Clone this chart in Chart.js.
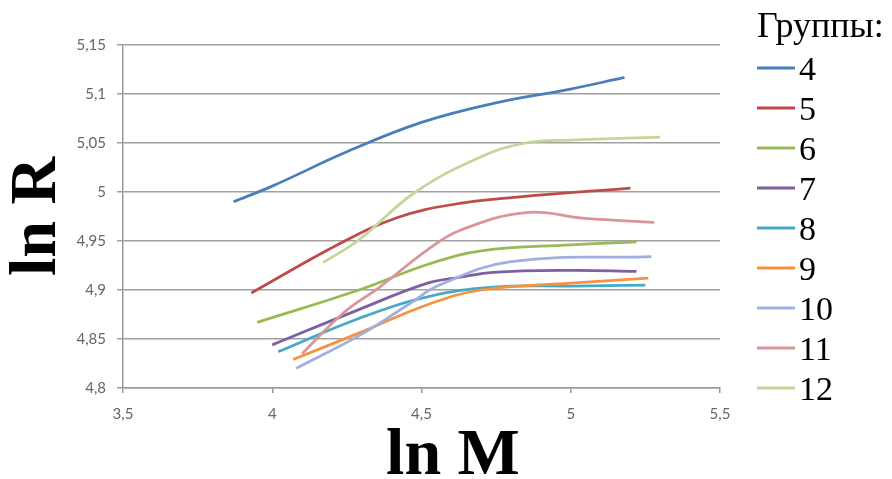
<!DOCTYPE html>
<html><head><meta charset="utf-8">
<script src="https://cdn.jsdelivr.net/npm/chart.js@4.4.0/dist/chart.umd.min.js"></script>
<style>html,body{margin:0;padding:0;background:#fff;}#wrap{width:892px;height:479px;position:relative;}</style>
</head><body><div id="wrap"><canvas id="c" width="892" height="479"></canvas></div>
<script>
// Groups (legend labels)
const groups = ['4', '5', '6', '7', '8', '9', '10', '11', '12'];
// ln M (x) and ln R (y) per group
const lnM_4  = [3.87, 4.00, 4.25, 4.50, 4.75, 5.00, 5.18];
const lnR_4  = [4.990, 5.006, 5.041, 5.071, 5.091, 5.105, 5.117];
const lnM_5  = [3.93, 4.23, 4.42, 4.60, 4.83, 5.20];
const lnR_5  = [4.897, 4.948, 4.974, 4.987, 4.995, 5.004];
const lnM_6  = [3.95, 4.29, 4.52, 4.70, 5.00, 5.22];
const lnR_6  = [4.867, 4.900, 4.926, 4.940, 4.946, 4.949];
const lnM_7  = [4.00, 4.29, 4.52, 4.63, 4.74, 5.00, 5.22];
const lnR_7  = [4.844, 4.880, 4.907, 4.913, 4.918, 4.920, 4.919];
const lnM_8  = [4.02, 4.29, 4.52, 4.74, 5.00, 5.25];
const lnR_8  = [4.837, 4.871, 4.893, 4.903, 4.904, 4.905];
const lnM_9  = [4.07, 4.29, 4.52, 4.70, 5.00, 5.26];
const lnR_9  = [4.829, 4.856, 4.885, 4.900, 4.907, 4.912];
const lnM_10 = [4.08, 4.30, 4.46, 4.56, 4.80, 5.27];
const lnR_10 = [4.820, 4.855, 4.886, 4.905, 4.929, 4.934];
const lnM_11 = [4.10, 4.24, 4.36, 4.52, 4.63, 4.85, 5.05, 5.28];
const lnR_11 = [4.835, 4.877, 4.903, 4.941, 4.961, 4.979, 4.973, 4.969];
const lnM_12 = [4.17, 4.29, 4.48, 4.70, 4.85, 5.00, 5.30];
const lnR_12 = [4.928, 4.951, 5.000, 5.036, 5.050, 5.053, 5.056];
// Axis ticks
const xTicks = [3.5, 4, 4.5, 5, 5.5];
const yTicks = [4.8, 4.85, 4.9, 4.95, 5, 5.05, 5.1, 5.15];

const colors = ['#4A7EBB', '#BE4B48', '#98B954', '#7D60A0', '#46AAC5', '#F69240', '#A0AEE2', '#D9959A', '#C2D69B'];
const xs = [lnM_4, lnM_5, lnM_6, lnM_7, lnM_8, lnM_9, lnM_10, lnM_11, lnM_12];
const ys = [lnR_4, lnR_5, lnR_6, lnR_7, lnR_8, lnR_9, lnR_10, lnR_11, lnR_12];

const fmt = v => String(+(+v).toFixed(2)).replace('.', ',');

const datasets = groups.map((g, i) => ({
  label: g,
  data: xs[i].map((x, j) => ({x: x, y: ys[i][j]})),
  borderColor: colors[i],
  backgroundColor: colors[i],
  borderWidth: 2.75,
  pointRadius: 0,
  showLine: true,
  tension: 0.4,
  order: 100 - i
}));

const extras = {
  id: 'extras',
  afterDraw(chart) {
    const ctx = chart.ctx;
    ctx.save();
    // x axis title
    ctx.fillStyle = '#000';
    ctx.font = 'bold 66px "Liberation Serif"';
    ctx.textAlign = 'center';
    ctx.textBaseline = 'alphabetic';
    ctx.fillText('ln M', 453, 474);
    // legend
    ctx.textAlign = 'left';
    ctx.font = '36px "Liberation Serif"';
    ctx.fillText('Группы:', 757, 37);
    ctx.font = '34px "Liberation Serif"';
    groups.forEach((g, i) => {
      const y = 68 + 40 * i;
      ctx.strokeStyle = colors[i];
      ctx.lineWidth = 3;
      ctx.beginPath();
      ctx.moveTo(757, y);
      ctx.lineTo(795, y);
      ctx.stroke();
      ctx.fillStyle = '#000';
      ctx.fillText(g, 799, y + 12);
    });
    ctx.restore();
  }
};

new Chart(document.getElementById('c'), {
  type: 'scatter',
  data: {datasets},
  plugins: [extras],
  options: {
    responsive: false,
    animation: false,
    devicePixelRatio: 1,
    layout: {padding: {top: 45, right: 172, left: 0, bottom: 0}},
    plugins: {legend: {display: false}, tooltip: {enabled: false}},
    scales: {
      x: {
        type: 'linear', min: 3.5, max: 5.5,
        afterBuildTicks: s => { s.ticks = xTicks.map(v => ({value: v})); },
        afterFit: s => { s.height = 91; },
        ticks: {callback: v => fmt(v), color: '#666', font: {family: 'Lato', size: 15}, padding: 12, maxRotation: 0},
        grid: {drawOnChartArea: false, drawTicks: true, tickLength: 5, color: '#999', lineWidth: 1.5},
        border: {display: true, color: '#999', width: 1.5}
      },
      y: {
        type: 'linear', min: 4.8, max: 5.15,
        afterBuildTicks: s => { s.ticks = yTicks.map(v => ({value: v})); },
        afterFit: s => { s.width = 123; },
        ticks: {callback: v => fmt(v), color: '#666', font: {family: 'Lato', size: 15}, padding: 11},
        grid: {drawTicks: true, tickLength: 6, color: '#a0a0a0', lineWidth: 1.5},
        border: {display: true, color: '#999', width: 1.5},
        title: {display: true, text: 'ln R', color: '#000', font: {family: 'Liberation Serif', size: 66, weight: 'bold', lineHeight: 1}, padding: {top: 5, bottom: 0}}
      }
    }
  }
});
</script></body></html>
